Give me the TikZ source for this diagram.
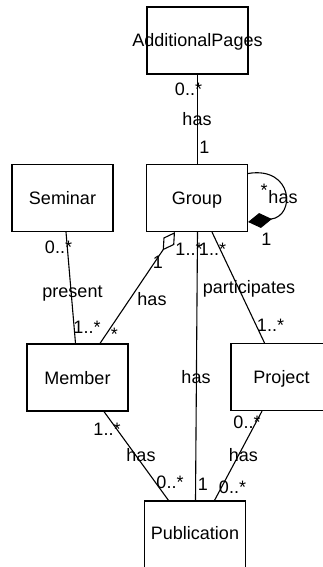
\documentclass[tikz,border=0pt]{standalone}
\usepackage{fontspec}
\setmainfont{Liberation Sans}
\usetikzlibrary{arrows.meta}
\begin{document}
\begin{tikzpicture}[x=1pt,y=-1pt,
  cls/.style={draw, line width=1.2pt, minimum width=101pt, minimum height=67pt,
    inner sep=0pt, text height=13pt, text depth=0pt,
    font=\fontsize{18}{20}\selectfont},
  assoc/.style={line width=1.1pt},
  lbl/.style={anchor=base, inner sep=0pt, font=\fontsize{18}{20}\selectfont},
  aggr/.style={assoc, -{Diamond[open,length=22pt,width=13pt]}},
  comp/.style={assoc, -{Diamond[length=24pt,width=15pt]}}
]
\useasboundingbox (0,0) rectangle (322,567);

% classes
\node[cls] (addp) at (197.5,40.5) {\makebox[0pt]{AdditionalPages}};
\node[cls] (group) at (197,198) {Group};
\node[cls] (seminar) at (62.5,198) {Seminar};
\node[cls] (member) at (77.5,377.5) {Member};
\node[cls] (project) at (281.5,377) {Project};
\node[cls, text depth=3pt] (publication) at (195,534.5) {Publication};

% associations
\draw[assoc] (addp.south) -- (addp.south |- group.north);
\draw[assoc] ([xshift=3.5pt]seminar.south) -- ([xshift=-2pt]member.north);
\draw[aggr] ([xshift=22.5pt]member.north) -- ([xshift=-22pt]group.south);
\draw[assoc] ([xshift=0.5pt]group.south) -- ([xshift=0.5pt]publication.north);
\draw[assoc] ([xshift=15pt]group.south) -- ([xshift=-17pt]project.north);
\draw[assoc] ([xshift=26.5pt]member.south) -- ([xshift=-26.5pt]publication.north);
\draw[assoc] ([xshift=-19.5pt]project.south) -- ([xshift=19.5pt]publication.north);
\draw[comp] ([yshift=24.5pt]group.east) .. controls (293,166) and (296,216) .. ([yshift=-24pt]group.east);

% AdditionalPages -- Group
\node[lbl] (ag1) at (188.5,96) {0..*};
\node[lbl] (ag2) at (197,125) {has};
\node[lbl] (ag3) at (204.5,153) {1};
% Seminar -- Member
\node[lbl] (sm1) at (58.5,253) {0..*};
\node[lbl] (sm2) at (72.5,297) {present};
\node[lbl] (sm3) at (87,333) {1..*};
% Group -- Member
\node[lbl] (gm1) at (158,268) {1};
\node[lbl] (gm2) at (152,305) {has};
\node[lbl] (gm3) at (114.5,340) {*};
% Group -- Publication
\node[lbl] (gp1) at (189,255) {1..*};
\node[lbl] (gp2) at (196,383) {has};
\node[lbl] (gp3) at (203,490) {1};
% Group -- Project
\node[lbl] (gj1) at (212.5,255) {1..*};
\node[lbl] (gj2) at (249,293.3) {participates};
\node[lbl] (gj3) at (270.5,331) {1..*};
% Group -- Group
\node[lbl] (gg1) at (264,196) {*};
\node[lbl] (gg2) at (283,203.3) {has};
\node[lbl] (gg3) at (266.5,245) {1};
% Member -- Publication
\node[lbl] (mp1) at (107,435) {1..*};
\node[lbl] (mp2) at (141,461.7) {has};
\node[lbl] (mp3) at (170,488.3) {0..*};
% Project -- Publication
\node[lbl] (jp1) at (247,428) {0..*};
\node[lbl] (jp2) at (243.3,461.7) {has};
\node[lbl] (jp3) at (232.5,493.3) {0..*};
\end{tikzpicture}
\end{document}
